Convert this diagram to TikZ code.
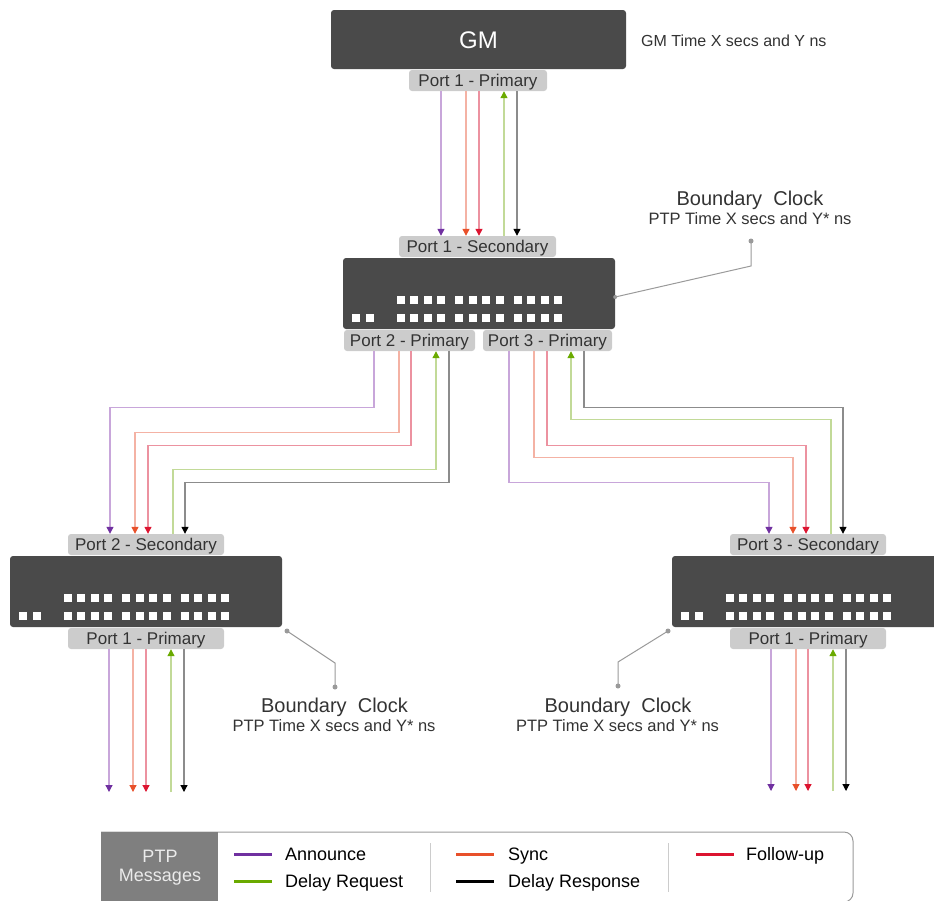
\documentclass[tikz,border=0pt]{standalone}
\usepackage{fontspec}
\setmainfont{Liberation Sans}
\usetikzlibrary{arrows.meta,calc}
\definecolor{swgray}{HTML}{4A4A4A}
\definecolor{portgray}{HTML}{CCCCCC}
\definecolor{txt}{HTML}{333333}
\definecolor{cPur}{HTML}{7030A0}
\definecolor{cPurL}{HTML}{C8A6DA}
\definecolor{cOra}{HTML}{E8502A}
\definecolor{cOraL}{HTML}{F4B2A4}
\definecolor{cRed}{HTML}{DC1430}
\definecolor{cRedL}{HTML}{EC92A0}
\definecolor{cGrn}{HTML}{6AAA00}
\definecolor{cGrnL}{HTML}{C2DA98}
\definecolor{cBlk}{HTML}{000000}
\definecolor{cBlkL}{HTML}{8C8C8C}
\definecolor{leadgray}{HTML}{9A9A9A}
\definecolor{leggray}{HTML}{7F7F7F}
\definecolor{divgray}{HTML}{CCCCCC}
\newcommand\fsz[2]{\fontsize{#1}{#2}\selectfont}
\newcommand\swsq[1]{%
  \foreach \g in {0,1,2}{\foreach \i in {0,1,2,3}{%
    \fill[white] ($(#1.north west)+({54+58.5*\g+13.4*\i},38)$) rectangle +(8,8);
    \fill[white] ($(#1.north west)+({54+58.5*\g+13.4*\i},56)$) rectangle +(8,8);}}
  \fill[white] ($(#1.north west)+(9,56)$) rectangle +(8,8);
  \fill[white] ($(#1.north west)+(23,56)$) rectangle +(8,8);
}
\begin{document}
\begin{tikzpicture}[x=1pt,y=-1pt,
  sw/.style={fill=swgray, rounded corners=3pt, minimum width=272pt, minimum height=71pt, inner sep=0pt, draw=none},
  portlbl/.style={fill=portgray, rounded corners=3pt, text=txt, font=\fsz{17}{20}, inner sep=0pt, minimum height=21pt, text height=12.2pt, text depth=0pt},
  msg/.style={line width=1.2pt},
  ann/.style={msg, draw=cPurL, -{Triangle[length=7pt,width=7pt,color=cPur]}},
  syn/.style={msg, draw=cOraL, -{Triangle[length=7pt,width=7pt,color=cOra]}},
  fol/.style={msg, draw=cRedL, -{Triangle[length=7pt,width=7pt,color=cRed]}},
  dreq/.style={msg, draw=cGrnL, -{Triangle[length=7pt,width=7pt,color=cGrn]}},
  dres/.style={msg, draw=cBlkL, -{Triangle[length=7pt,width=7pt,color=cBlk]}},
  lead/.style={draw=leadgray, line width=1pt},
  dot/.style={fill=leadgray},
  bctitle/.style={text=txt, font=\fsz{20}{24}, inner sep=0pt, text height=14.3pt, text depth=0pt},
  bcsub/.style={text=txt, font=\fsz{16.5}{20}, inner sep=0pt, text height=11.8pt, text depth=0pt},
  legline/.style={line width=3pt},
  legtxt/.style={anchor=base west, text=black, font=\fsz{18}{21}, inner sep=0pt},
  divline/.style={draw=divgray, line width=0.8pt}
]
\useasboundingbox (0,0) rectangle (934,900);

% GM
\node[sw, minimum width=295pt, minimum height=59pt, text=white, font=\fsz{24}{28}, text height=17.2pt, text depth=0pt] (gm) at (478.5,39.5) {GM};
\node[portlbl, minimum width=138pt] (gmp) at (478,80.5) {Port 1 - Primary};
\node[anchor=west, text=txt, font=\fsz{16}{19}, inner sep=0pt, text height=11.5pt, text depth=0pt] (gmt) at (641,41) {GM Time X secs and Y ns};

% middle boundary clock
\node[portlbl, minimum width=157pt] (p1s) at (477.5,246.5) {Port 1 - Secondary};
\node[portlbl, minimum width=131pt] (p2p) at (409.5,340.5) {Port 2 - Primary};
\node[portlbl, minimum width=129pt] (p3p) at (547.5,340.5) {Port 3 - Primary};
\node[sw] (mid) at (479,293.5) {};
\swsq{mid}

% left boundary clock
\node[portlbl, minimum width=156pt] (lp2s) at (146,544.5) {Port 2 - Secondary};
\node[portlbl, minimum width=156pt] (lp1p) at (146,638.5) {Port 1 - Primary};
\node[sw] (lsw) at (146,591.5) {};
\swsq{lsw}

% right boundary clock
\node[portlbl, minimum width=156pt] (rp3s) at (808,544.5) {Port 3 - Secondary};
\node[portlbl, minimum width=156pt] (rp1p) at (808,638.5) {Port 1 - Primary};
\node[sw] (rsw) at (808,591.5) {};
\swsq{rsw}

% GM -> middle
\draw[ann] ([xshift=-37pt]gmp.south) -- ([xshift=-37pt]gmp.south |- p1s.north);
\draw[syn] ([xshift=-12pt]gmp.south) -- ([xshift=-12pt]gmp.south |- p1s.north);
\draw[fol] ([xshift=1pt]gmp.south) -- ([xshift=1pt]gmp.south |- p1s.north);
\draw[dreq] ([xshift=26pt]gmp.south |- p1s.north) -- ([xshift=26pt]gmp.south);
\draw[dres] ([xshift=39pt]gmp.south) -- ([xshift=39pt]gmp.south |- p1s.north);

% middle port 2 -> left
\draw[ann] ([xshift=-35.5pt]p2p.south) -- ++(0,56) -| ([xshift=-36pt]lp2s.north);
\draw[syn] ([xshift=-10.5pt]p2p.south) -- ++(0,81) -| ([xshift=-11pt]lp2s.north);
\draw[fol] ([xshift=1.5pt]p2p.south) -- ++(0,94) -| ([xshift=2pt]lp2s.north);
\draw[dreq] ([xshift=27pt]lp2s.north) -- ++(0,-64) -| ([xshift=26.5pt]p2p.south);
\draw[dres] ([xshift=39.5pt]p2p.south) -- ++(0,131) -| ([xshift=39pt]lp2s.north);

% middle port 3 -> right
\draw[ann] ([xshift=-38.5pt]p3p.south) -- ++(0,131) -| ([xshift=-39pt]rp3s.north);
\draw[syn] ([xshift=-13.5pt]p3p.south) -- ++(0,106) -| ([xshift=-15pt]rp3s.north);
\draw[fol] ([xshift=-0.5pt]p3p.south) -- ++(0,94) -| ([xshift=-2pt]rp3s.north);
\draw[dreq] ([xshift=23pt]rp3s.north) -- ++(0,-114) -| ([xshift=23.5pt]p3p.south);
\draw[dres] ([xshift=36.5pt]p3p.south) -- ++(0,56) -| ([xshift=35pt]rp3s.north);

% left outputs
\coordinate (lend) at (146,792);
\draw[ann] ([xshift=-37pt]lp1p.south) -- ([xshift=-37pt]lp1p.south |- lend);
\draw[syn] ([xshift=-13pt]lp1p.south) -- ([xshift=-13pt]lp1p.south |- lend);
\draw[fol] ([xshift=0pt]lp1p.south) -- ([xshift=0pt]lp1p.south |- lend);
\draw[dreq] ([xshift=25pt]lp1p.south |- lend) -- ([xshift=25pt]lp1p.south);
\draw[dres] ([xshift=38pt]lp1p.south) -- ([xshift=38pt]lp1p.south |- lend);

% right outputs
\coordinate (rend) at (808,791);
\draw[ann] ([xshift=-37pt]rp1p.south) -- ([xshift=-37pt]rp1p.south |- rend);
\draw[syn] ([xshift=-12pt]rp1p.south) -- ([xshift=-12pt]rp1p.south |- rend);
\draw[fol] ([xshift=0pt]rp1p.south) -- ([xshift=0pt]rp1p.south |- rend);
\draw[dreq] ([xshift=25pt]rp1p.south |- rend) -- ([xshift=25pt]rp1p.south);
\draw[dres] ([xshift=38pt]rp1p.south) -- ([xshift=38pt]rp1p.south |- rend);

% boundary clock labels and leaders
\node[bctitle] (bc1t) at (750,198) {Boundary~~Clock};
\node[bcsub] (bc1s) at (750,219) {PTP Time X secs and Y* ns};
\coordinate (l1a) at (751,241);
\coordinate (l1b) at (751,266);
\coordinate (l1c) at ([yshift=-3.5pt]mid.east);
\draw[lead] (l1a) -- (l1b) -- (l1c);
\fill[dot] (l1a) circle (2.5); \fill[dot] (l1c) circle (2);

\node[bctitle] (bc2t) at (334.5,705) {Boundary~~Clock};
\node[bcsub] (bc2s) at (334,726) {PTP Time X secs and Y* ns};
\coordinate (l2a) at (335,687);
\coordinate (l2b) at (335,663);
\coordinate (l2c) at (287,631);
\draw[lead] (l2a) -- (l2b) -- (l2c);
\fill[dot] (l2a) circle (2.5); \fill[dot] (l2c) circle (2.5);

\node[bctitle] (bc3t) at (618,705) {Boundary~~Clock};
\node[bcsub] (bc3s) at (617.5,726) {PTP Time X secs and Y* ns};
\coordinate (l3a) at (618,686);
\coordinate (l3b) at (618,662);
\coordinate (l3c) at (668,631);
\draw[lead] (l3a) -- (l3b) -- (l3c);
\fill[dot] (l3a) circle (2.5); \fill[dot] (l3c) circle (2.5);

% legend
\draw[draw=leadgray, line width=1pt, rounded corners=9pt] (101,832) -- (853,832) -- (853,902) -- (101,902);
\fill[leggray] (101,832) rectangle (218,902);
\node[align=center, text=white!92!black, font=\fsz{18}{19}, inner sep=0pt] (legt) at (160,868) {PTP\\Messages};
\draw[legline, cPur] (234,854) -- (272,854);
\node[legtxt] (la) at (285,860) {Announce};
\draw[legline, cGrn] (234,881) -- (272,881);
\node[legtxt] (lb) at (285,887) {Delay Request};
\draw[divline] (430,843) -- (430,892);
\draw[legline, cOra] (456,854) -- (494,854);
\node[legtxt] (lc) at (508,860) {Sync};
\draw[legline, cBlk] (456,881) -- (494,881);
\node[legtxt] (ld) at (508,887) {Delay Response};
\draw[divline] (668,843) -- (668,892);
\draw[legline, cRed] (696,854) -- (734,854);
\node[legtxt] (le) at (746,860) {Follow-up};
\end{tikzpicture}
\end{document}
